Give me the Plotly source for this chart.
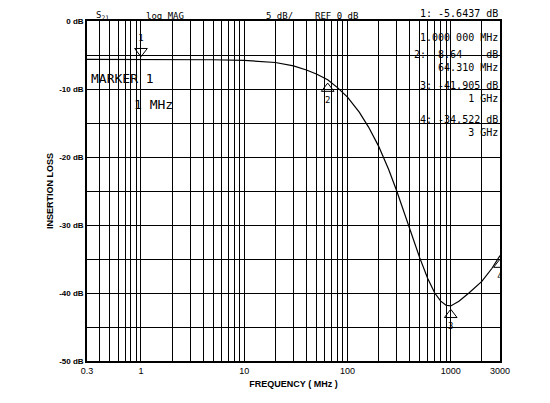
import plotly.graph_objects as go

# S21 trace
freq_mhz = [0.3, 1, 5, 10, 20, 30, 40, 50, 64.31, 80, 100, 130, 160, 200, 250, 300,
            400, 500, 600, 700, 800, 900, 1000, 1200, 1500, 2000, 2500, 3000]
loss_db = [-5.64, -5.64, -5.7, -5.8, -6.1, -6.6, -7.2, -7.8, -8.64, -9.8, -11.2, -13.4,
           -15.6, -18.4, -21.8, -25.0, -30.5, -34.8, -37.9, -40.0, -41.2, -41.8, -41.9,
           -41.2, -40.0, -38.3, -36.4, -34.5]

marker_freq = [1, 64.31, 1000, 3000]
marker_db = [-5.6437, -8.64, -41.905, -34.522]
marker_names = ["1", "2", "3", "4"]

x_labels = {0.3: "0.3", 1: "1", 10: "10", 100: "100", 1000: "1000", 3000: "3000"}
y_ticks = [0, -10, -20, -30, -40, -50]

grid_x = [0.3, 0.4, 0.5, 0.6, 0.7, 0.8, 0.9]
for dec in [1, 10, 100, 1000]:
    grid_x += [m * dec for m in range(1, 10) if m * dec <= 3000]

mono = "DejaVu Sans Mono"

fig = go.Figure()
fig.add_trace(go.Scatter(x=freq_mhz, y=loss_db, mode="lines", line=dict(color="black", width=1.2),
                         hoverinfo="skip"))
# marker 1 sits above the trace pointing down, the others below pointing up
fig.add_trace(go.Scatter(x=marker_freq[:1], y=[marker_db[0] + 1.2], mode="markers+text",
                         marker=dict(symbol="triangle-down-open", size=11, color="black", line=dict(width=1)),
                         text=marker_names[:1], textposition="top center",
                         textfont=dict(family=mono, size=9, color="black")))
fig.add_trace(go.Scatter(x=marker_freq[1:], y=[v - 1.3 for v in marker_db[1:]], mode="markers+text",
                         marker=dict(symbol="triangle-up-open", size=11, color="black", line=dict(width=1)),
                         text=marker_names[1:], textposition="bottom center",
                         textfont=dict(family=mono, size=9, color="black")))

fig.update_layout(
    width=550, height=403, showlegend=False,
    margin=dict(l=79, r=58, t=13, b=50),
    paper_bgcolor="white", plot_bgcolor="white",
    font=dict(family="Liberation Sans", color="black"),
    xaxis=dict(type="log", range=[-0.5229, 3.4771], tickvals=grid_x, automargin=False, tickangle=0,
               ticktext=[x_labels.get(v, " ") for v in grid_x], showgrid=True, gridcolor="black",
               gridwidth=1, zeroline=False, showline=True, linecolor="black", linewidth=1.5, mirror=True,
               ticks="", tickfont=dict(size=9, family="Liberation Sans"),
               title=dict(text="<b>FREQUENCY ( MHz )</b>", font=dict(size=9), standoff=6)),
    yaxis=dict(range=[-50, 0], tickvals=list(range(0, -51, -5)), automargin=False,
               ticktext=[f"<b>{v} dB</b>" if v in y_ticks else " " for v in range(0, -51, -5)],
               showgrid=True, gridcolor="black", gridwidth=1, zeroline=False, showline=True,
               linecolor="black", linewidth=1.5, mirror=True, ticks="", tickfont=dict(size=8),
               title=dict(text="<b>INSERTION LOSS</b>", font=dict(size=9), standoff=4)),
)

head = [(0.02, "S<sub>21</sub>"), (0.14, "log MAG"), (0.43, "5 dB/"), (0.55, "REF 0 dB")]
for xp, t in head:
    fig.add_annotation(x=xp, y=1.0, xref="paper", yref="paper", text=t, showarrow=False,
                       xanchor="left", yanchor="bottom", yshift=-1, borderpad=0,
                       font=dict(family=mono, size=9))
readout = [(1.0, "1: -5.6437 dB"), (0.93, "1.000 000 MHz"), (0.84, "2: -8.64    dB<br>64.310 MHz"),
           (0.75, "3: -41.905 dB<br>1 GHz"), (0.65, "4: -34.522 dB<br>3 GHz")]
for yp, t in readout:
    fig.add_annotation(x=1.0, y=yp, xref="paper", yref="paper", text=t, showarrow=False, align="right",
                       xanchor="right", yanchor="bottom", font=dict(family=mono, size=10))
fig.add_annotation(x=0.005, y=0.83, xref="paper", yref="paper", text="MARKER 1", showarrow=False,
                   xanchor="left", yanchor="middle", font=dict(family=mono, size=13))
fig.add_annotation(x=0.11, y=0.755, xref="paper", yref="paper", text="1 MHz", showarrow=False,
                   xanchor="left", yanchor="middle", font=dict(family=mono, size=13))

fig.write_html("out.html")
